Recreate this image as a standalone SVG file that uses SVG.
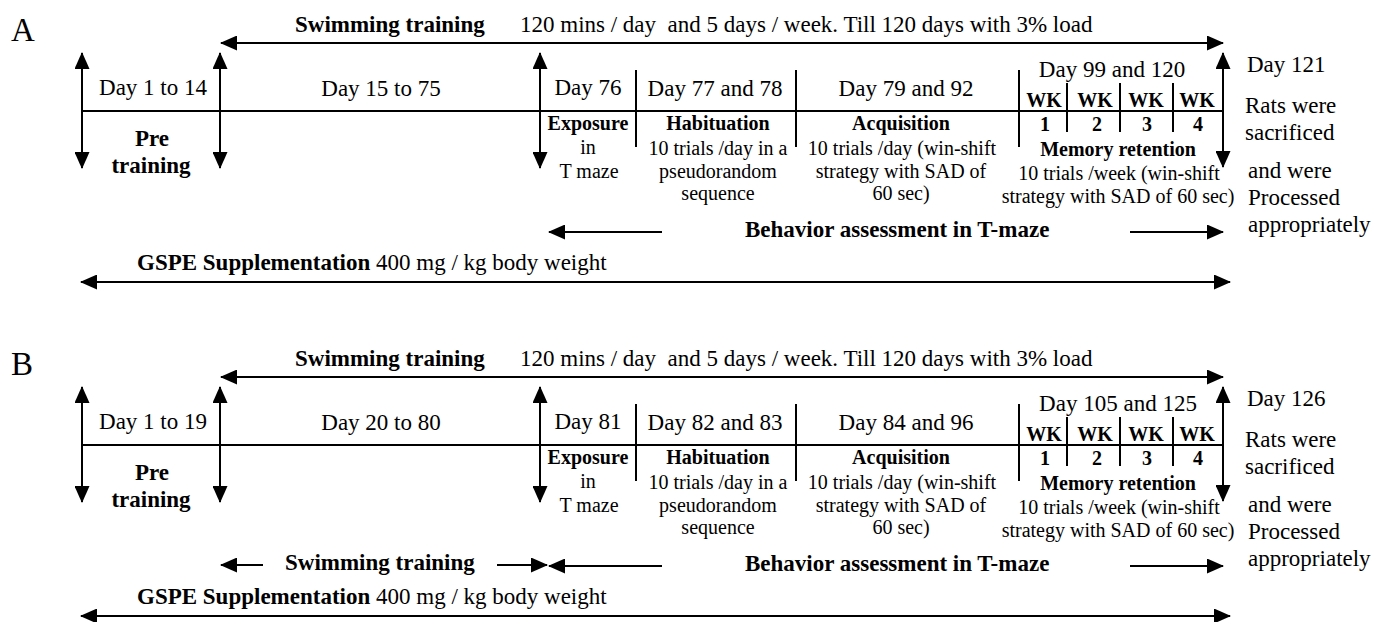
<svg xmlns="http://www.w3.org/2000/svg" width="1373" height="622" viewBox="0 0 1373 622" font-family="Liberation Serif, serif">
<style>
.t{fill:#000}
.r22{font-size:23px}
.r20{font-size:20px}
.b22{font-size:23px;font-weight:bold}
.b20{font-size:20px;font-weight:bold}
.m{text-anchor:middle}
.ln{stroke:#000;stroke-width:2;fill:none}
.e{marker-end:url(#ah)}
.s{marker-start:url(#ah)}
</style>
<defs>
<marker id="ah" markerUnits="userSpaceOnUse" markerWidth="17" markerHeight="15" refX="16" refY="7.5" orient="auto-start-reverse">
<path d="M0,0 L17,7.5 L0,15 z" fill="#000"/>
</marker>
<g id="common" font-family="Liberation Serif, serif">
<g id="connectors-common">
<line class="ln s e" x1="221" y1="43" x2="1223" y2="43"/>
<line class="ln" x1="82" y1="111" x2="1223" y2="111"/>
<line class="ln s e" x1="82" y1="53" x2="82" y2="168"/>
<line class="ln s e" x1="220" y1="53" x2="220" y2="168"/>
<line class="ln s e" x1="540" y1="53" x2="540" y2="168"/>
<line class="ln s e" x1="1223" y1="53" x2="1223" y2="167"/>
<line class="ln" x1="636" y1="70" x2="636" y2="147"/>
<line class="ln" x1="796" y1="70" x2="796" y2="147"/>
<line class="ln" x1="1019" y1="70" x2="1019" y2="147"/>
<line class="ln" x1="1067" y1="83" x2="1067" y2="132"/>
<line class="ln" x1="1120" y1="83" x2="1120" y2="132"/>
<line class="ln" x1="1173" y1="83" x2="1173" y2="132"/>
<line class="ln e" x1="662" y1="232" x2="549" y2="232"/>
<line class="ln e" x1="1130" y1="232" x2="1223" y2="232"/>
<line class="ln s e" x1="81" y1="282" x2="1230" y2="282"/>
</g>
<g id="swim-label">
<text class="t b22" x="295" y="32">Swimming training</text>
<text class="t r22" x="520" y="32" style="white-space:pre">120 mins / day  and 5 days / week. Till 120 days with 3% load</text>
</g>
<g id="pre-training">
<text class="t b22 m" x="152" y="146">Pre</text>
<text class="t b22 m" x="151" y="173">training</text>
</g>
<g id="exposure">
<text class="t b20 m" x="588" y="130">Exposure</text>
<text class="t r20 m" x="588" y="154">in</text>
<text class="t r20 m" x="589" y="178">T maze</text>
</g>
<g id="habituation">
<text class="t b20 m" x="718" y="130">Habituation</text>
<text class="t r20 m" x="718" y="155">10 trials /day in a</text>
<text class="t r20 m" x="718" y="178">pseudorandom</text>
<text class="t r20 m" x="718" y="200">sequence</text>
</g>
<g id="acquisition">
<text class="t b20 m" x="901" y="130">Acquisition</text>
<text class="t r20 m" x="902" y="155">10 trials /day (win-shift</text>
<text class="t r20 m" x="901" y="178">strategy with SAD of</text>
<text class="t r20 m" x="901" y="200">60 sec)</text>
</g>
<g id="memory">
<text class="t b20 m" x="1044" y="107">WK</text>
<text class="t b20 m" x="1095" y="107">WK</text>
<text class="t b20 m" x="1146" y="107">WK</text>
<text class="t b20 m" x="1197" y="107">WK</text>
<text class="t b20 m" x="1045" y="131">1</text>
<text class="t b20 m" x="1097" y="131">2</text>
<text class="t b20 m" x="1147" y="131">3</text>
<text class="t b20 m" x="1198" y="131">4</text>
<text class="t b20 m" x="1118" y="156">Memory retention</text>
<text class="t r20 m" x="1119" y="180">10 trials /week (win-shift</text>
<text class="t r20 m" x="1118" y="203">strategy with SAD of 60 sec)</text>
</g>
<g id="sacrifice">
<text class="t r22" x="1245" y="113">Rats were</text>
<text class="t r22" x="1245" y="140">sacrificed</text>
<text class="t r22" x="1248" y="178">and were</text>
<text class="t r22" x="1248" y="205">Processed</text>
<text class="t r22" x="1248" y="232">appropriately</text>
</g>
<g id="behavior">
<text class="t b22" x="745" y="237">Behavior assessment in T-maze</text>
</g>
<g id="gspe">
<text class="t r22" x="137" y="270"><tspan font-weight="bold">GSPE Supplementation</tspan> 400 mg / kg body weight</text>
</g>
</g>
</defs>

<g id="panel-A">
<text class="t" x="11" y="41" font-size="33">A</text>
<use href="#common"/>
<g id="A-days" class="t r22">
<text class="m" x="153" y="95">Day 1 to 14</text>
<text class="m" x="381" y="96">Day 15 to 75</text>
<text class="m" x="588" y="95">Day 76</text>
<text class="m" x="715" y="96">Day 77 and 78</text>
<text class="m" x="906" y="96">Day 79 and 92</text>
<text class="m" x="1112" y="77">Day 99 and 120</text>
<text x="1247" y="72">Day 121</text>
</g>
</g>

<g id="panel-B" transform="translate(0,334)">
<text class="t" x="11" y="41" font-size="33">B</text>
<use href="#common"/>
<g id="B-days" class="t r22">
<text class="m" x="153" y="95">Day 1 to 19</text>
<text class="m" x="381" y="96">Day 20 to 80</text>
<text class="m" x="588" y="95">Day 81</text>
<text class="m" x="715" y="96">Day 82 and 83</text>
<text class="m" x="906" y="96">Day 84 and 96</text>
<text class="m" x="1118" y="77">Day 105 and 125</text>
<text x="1247" y="72">Day 126</text>
</g>
<g id="B-swim2">
<text class="t b22" x="285" y="236">Swimming training</text>
</g>
<g id="B-connectors">
<line class="ln e" x1="263" y1="231" x2="221" y2="231"/>
<line class="ln e" x1="497" y1="231" x2="547" y2="231"/>
</g>
</g>
</svg>
